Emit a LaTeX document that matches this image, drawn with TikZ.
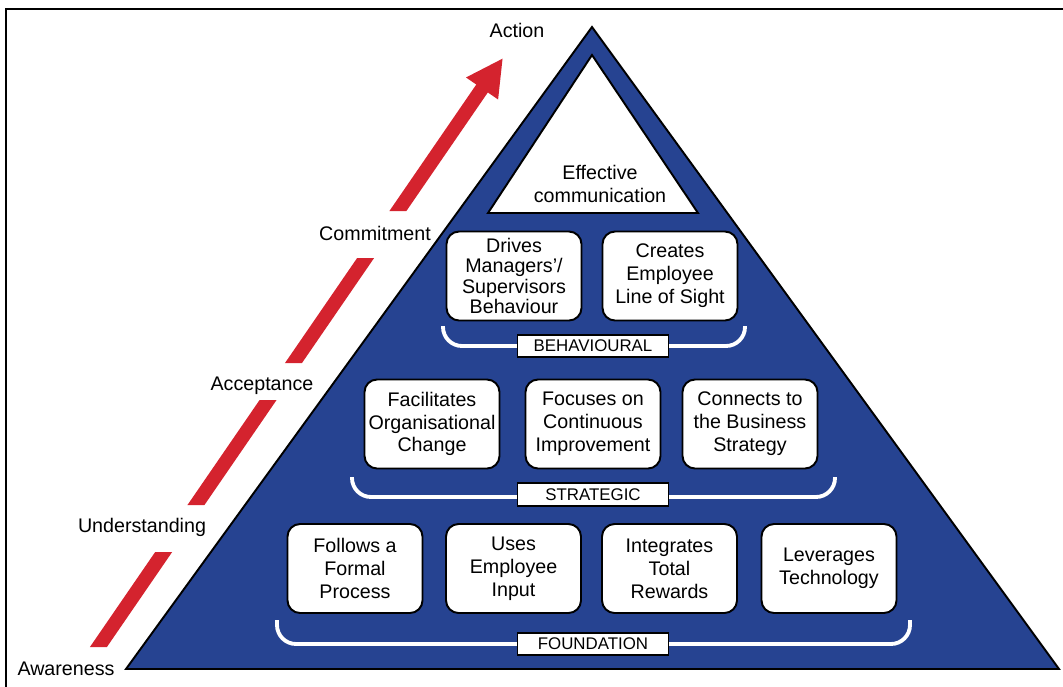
\documentclass[tikz,border=0pt]{standalone}
\usepackage{fontspec}
\setmainfont{Liberation Sans}
\usetikzlibrary{arrows.meta}
\definecolor{pyrblue}{RGB}{38,67,145}
\definecolor{arrowred}{RGB}{212,35,46}

\begin{document}
\begin{tikzpicture}
  [x=0.02cm,y=-0.02cm,
   every node/.style={font=\fontsize{11.2}{13}\selectfont},
   box/.style={draw,line width=1.1pt,fill=white,rounded corners=0.25cm,
     minimum width=2.7cm,minimum height=1.78cm,align=center,inner sep=2pt},
   tier/.style={draw,line width=0.9pt,fill=white,minimum width=3.02cm,
     minimum height=0.45cm,inner sep=0pt,font=\fontsize{9.6}{11}\selectfont},
   brace/.style={white,line width=2.2pt,rounded corners=0.38cm},
   stage/.style={anchor=base}]
  \useasboundingbox (0,0) rectangle (1063,687);
  \draw[line width=1.1pt] (6,687) -- (6,9) -- (1063,9);

  \coordinate (bl) at (126,669);
  \coordinate (br) at (1059,669);
  \coordinate (apex) at (592,27);
  \draw[fill=pyrblue,line width=1.1pt] (bl) -- (apex) -- (br) -- cycle;
  \draw[fill=white,line width=1.1pt] (488,213) -- (592,55) -- (698,213) -- cycle;
  \node (comm) at (600,184) [align=center] {Effective\\communication};

  % the stages, with the arrow broken round them
  \node[stage] (action) at (517,37) {Action};
  \node[stage] (commit) at (375,240) {Commitment};
  \node[stage] (accept) at (262,390) {Acceptance};
  \node[stage] (underst) at (142,532) {Understanding};
  \node[stage] (aware) at (66,675) {Awareness};
  \begin{scope}
    \clip (0,552) rectangle (1063,647) (0,400) rectangle (1063,505)
          (0,258) rectangle (1063,363) (0,20) rectangle (1063,211);
    \draw[arrowred,line width=0.28cm,-{Triangle[length=0.74cm,width=0.72cm]}]
      (89.5,660) -- (503,58);
  \end{scope}

  \draw[brace] (443,326) -- (443,346) -- (745,346) -- (745,326);
  \draw[brace] (352,477) -- (352,497) -- (835,497) -- (835,477);
  \draw[brace] (277,620) -- (277,644) -- (910,644) -- (910,620);

  \node[box] (b1) at (514,276) [font=\fontsize{11.2}{11.6}\selectfont]
    {Drives\\Managers’/\\Supervisors\\Behaviour};
  \node[box] (b2) at (670,276) {Creates\\Employee\\Line of Sight};
  \node[tier] (behav) at (593,346) {BEHAVIOURAL};

  \node[box] (s1) at (432,424) {Facilitates\\Organisational\\Change};
  \node[box] (s2) at (593,424) {Focuses on\\Continuous\\Improvement};
  \node[box] (s3) at (750,424) {Connects to\\the Business\\Strategy};
  \node[tier] (strat) at (593,494.5) {STRATEGIC};

  \node[box] (f1) at (355,568.5) {Follows a\\Formal\\Process};
  \node[box] (f2) at (513.5,568.5) {Uses\\Employee\\Input};
  \node[box] (f3) at (669.5,568.5) {Integrates\\Total\\Rewards};
  \node[box] (f4) at (829,568.5) {Leverages\\Technology};
  \node[tier] (found) at (593,644) {FOUNDATION};
\end{tikzpicture}
\end{document}
